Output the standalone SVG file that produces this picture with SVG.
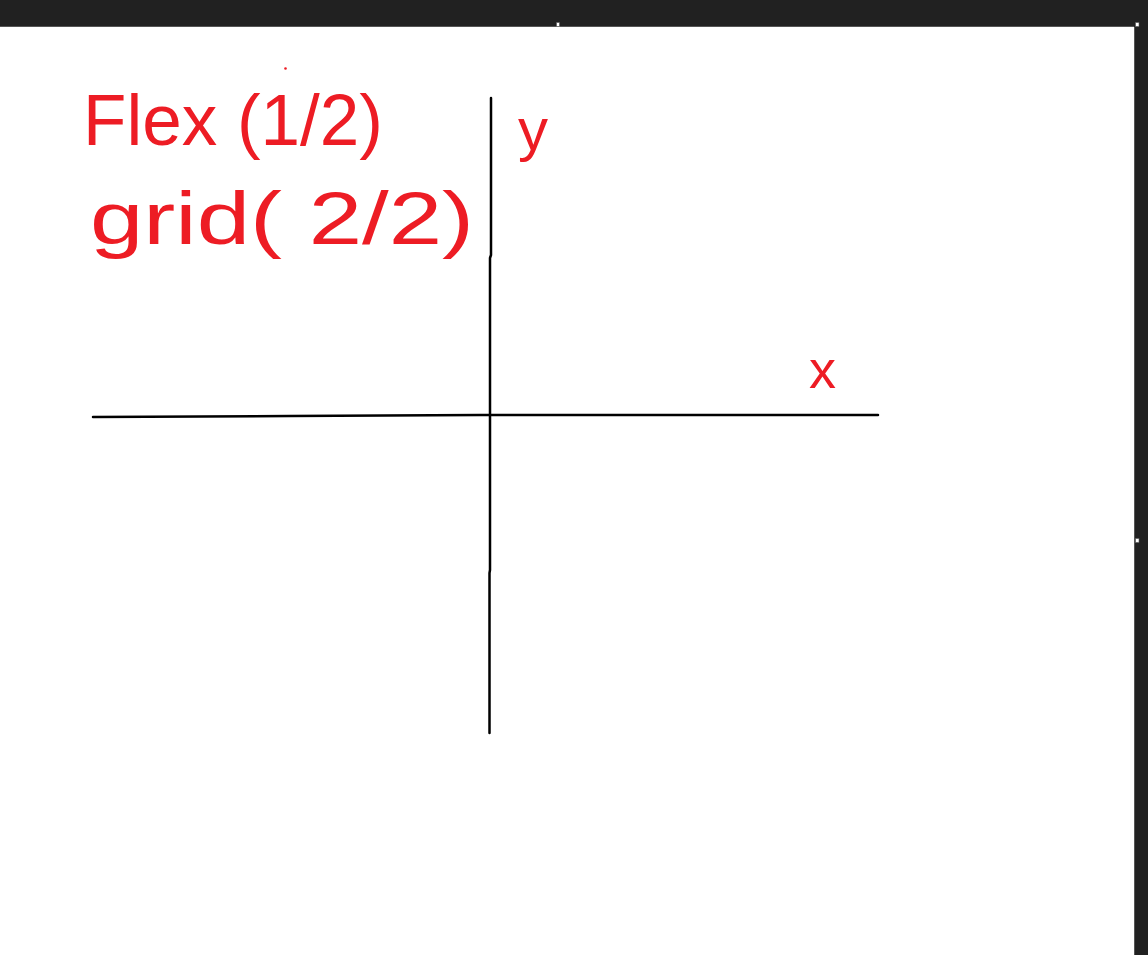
<svg xmlns="http://www.w3.org/2000/svg" width="1148" height="955" viewBox="0 0 1148 955">
<style>
.hand{font-family:"Liberation Sans","DejaVu Sans",sans-serif;fill:#ED1C24;}
.axis{fill:none;stroke:#000;stroke-width:2.5;stroke-linecap:round;stroke-linejoin:round;}
.handle{fill:#fff;stroke:#555;stroke-width:0.6;}
</style>
<rect x="0" y="0" width="1148" height="955" fill="#fff"/>
<g id="frame">
<rect x="0" y="0" width="1148" height="27" fill="#212121"/>
<rect x="0" y="26" width="1134" height="1" fill="#555"/>
<rect x="1134" y="27" width="14" height="928" fill="#212121"/>
<rect x="1134" y="27" width="1" height="928" fill="#555"/>
<rect class="handle" x="556.5" y="22.5" width="3" height="4"/>
<rect class="handle" x="1135.5" y="22.5" width="3.5" height="4"/>
<rect class="handle" x="1135.5" y="538.5" width="3.5" height="4"/>
</g>
<g id="axes">
<polyline class="axis" points="93,417 290,416 480,415 680,415 878,415"/>
<polyline class="axis" points="491,98 491,255 490,258 490,570 489.5,573 489.5,733"/>
</g>
<g id="labels">
<text class="hand" x="83" y="145" font-size="72" textLength="300" lengthAdjust="spacingAndGlyphs">Flex (1/2)</text>
<circle cx="285.5" cy="68.5" r="1.3" fill="#ED1C24"/>
<text class="hand" x="90" y="244" font-size="74" textLength="384" lengthAdjust="spacingAndGlyphs">grid( 2/2)</text>
<text class="hand" x="518" y="150" font-size="60">y</text>
<text class="hand" x="809" y="388" font-size="54">x</text>
</g>
</svg>
